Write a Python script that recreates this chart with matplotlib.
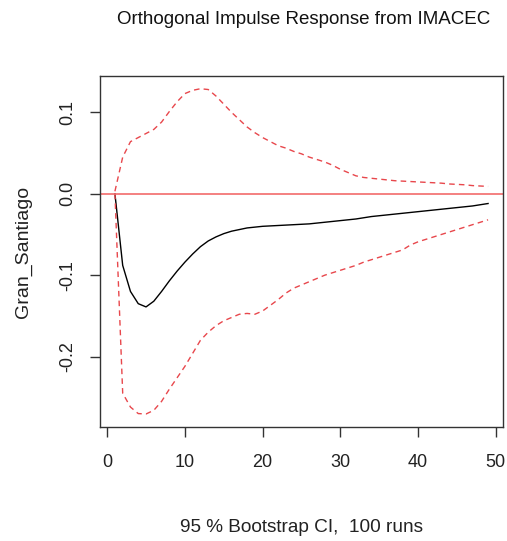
import numpy as np
import matplotlib
matplotlib.use('Agg')
import matplotlib.pyplot as plt

# impulse response of Gran_Santiago to an IMACEC shock
horizon = list(range(1, 50))

irf = [0.0, -0.088, -0.120, -0.135, -0.139, -0.132, -0.120, -0.107, -0.095, -0.084,
       -0.074, -0.065, -0.058, -0.053, -0.049, -0.046, -0.044, -0.042, -0.041, -0.040,
       -0.0395, -0.039, -0.0385, -0.038, -0.0375, -0.037, -0.036, -0.035, -0.034, -0.033,
       -0.032, -0.031, -0.0295, -0.028, -0.027, -0.026, -0.025, -0.024, -0.023, -0.022,
       -0.021, -0.020, -0.019, -0.018, -0.017, -0.016, -0.015, -0.0135, -0.012]

upper = [0.003, 0.045, 0.064, 0.069, 0.074, 0.079, 0.088, 0.101, 0.113, 0.123,
         0.127, 0.129, 0.128, 0.120, 0.110, 0.100, 0.091, 0.082, 0.075, 0.069,
         0.064, 0.059, 0.056, 0.052, 0.049, 0.045, 0.042, 0.039, 0.035, 0.030,
         0.026, 0.022, 0.020, 0.019, 0.018, 0.017, 0.016, 0.0155, 0.015, 0.0145,
         0.014, 0.0135, 0.013, 0.012, 0.0115, 0.011, 0.010, 0.0095, 0.009]

lower = [0.0, -0.245, -0.262, -0.270, -0.2705, -0.266, -0.255, -0.240, -0.226, -0.212,
         -0.196, -0.180, -0.170, -0.162, -0.156, -0.152, -0.148, -0.147, -0.148, -0.144,
         -0.137, -0.130, -0.122, -0.116, -0.112, -0.108, -0.104, -0.100, -0.097, -0.094,
         -0.091, -0.088, -0.084, -0.081, -0.078, -0.075, -0.072, -0.069, -0.063, -0.059,
         -0.056, -0.053, -0.050, -0.047, -0.044, -0.041, -0.038, -0.035, -0.032]

xticks = [0, 10, 20, 30, 40, 50]
yticks = [0.1, 0.0, -0.1, -0.2]
ytick_labels = ['0.1', '0.0', '-0.1', '-0.2']

plt.rcParams['font.family'] = ['Liberation Sans', 'DejaVu Sans']

W, H = 507, 541
fig = plt.figure(figsize=(W / 100, H / 100), dpi=100)
ax = fig.add_axes([100 / W, (H - 427) / H, 403 / W, (427 - 75.7) / H])

ax.plot(horizon, irf, color='black', lw=1.0)
ax.plot(horizon, upper, color='#e8474c', lw=1.0, ls=(0, (4, 3)))
ax.plot(horizon, lower, color='#e8474c', lw=1.0, ls=(0, (4, 3)))
ax.axhline(0, color='#f26b6b', lw=1.2)

# R style 4% padding
allv = irf + upper + lower
ymin, ymax = min(allv), max(allv)
pad = 0.04 * (ymax - ymin)
ax.set_ylim(ymin - pad, ymax + pad)
xpad = 0.04 * (horizon[-1] - horizon[0])
ax.set_xlim(horizon[0] - xpad, horizon[-1] + xpad)

ax.set_xticks(xticks)
ax.set_yticks(yticks)
ax.set_yticklabels(ytick_labels, rotation=90, va='center')
ax.tick_params(axis='both', length=7, width=1, color='#333333', labelsize=13,
               labelcolor='#222222')
ax.tick_params(axis='x', pad=12.5)
ax.tick_params(axis='y', pad=10)
for s in ax.spines.values():
    s.set_color('#333333')
    s.set_linewidth(1)

fig.text(304 / W, 1 - 20 / H, 'Orthogonal Impulse Response from IMACEC',
         ha='center', va='center', fontsize=13.5, color='#111111')
fig.text(301.5 / W, 1 - 528 / H, '95 % Bootstrap CI,  100 runs',
         ha='center', va='center', fontsize=13.7, color='#222222')
fig.text(23 / W, 1 - 252 / H, 'Gran_Santiago', rotation=90,
         ha='center', va='center', fontsize=14, color='#222222')

fig.savefig('out.png', dpi=100)
